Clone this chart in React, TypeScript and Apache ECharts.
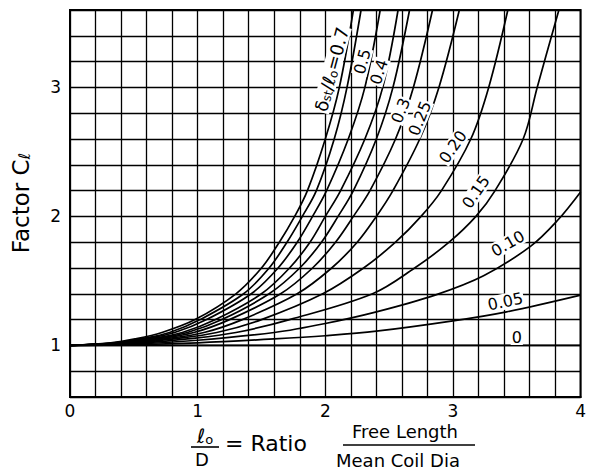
import React, { useEffect, useRef } from "react";
import * as echarts from "echarts";

// ---- axis ticks (labelled values) ----
const xTickLabels = [0, 1, 2, 3, 4];
const yTickLabels = [1, 2, 3];

// ---- curve family: delta_st / l_o values, each as [L0/D, C_l] points ----
const curveNames = ["0.7", "0.6", "0.5", "0.4", "0.35", "0.3", "0.25", "0.20", "0.15", "0.10", "0.05", "0"];

const c070 = [[0, 1], [0.32, 1.02], [0.51, 1.05], [0.72, 1.1], [0.98, 1.2], [1.3, 1.4], [1.5, 1.6], [1.64, 1.8], [1.76, 2.0], [1.86, 2.2], [2.0, 2.6], [2.11, 3.0], [2.22, 3.6]];
const c060 = [[0, 1], [0.35, 1.02], [0.55, 1.05], [0.78, 1.1], [1.02, 1.2], [1.36, 1.4], [1.56, 1.6], [1.7, 1.8], [1.82, 2.0], [1.93, 2.2], [2.07, 2.6], [2.17, 3.0], [2.28, 3.6]];
const c050 = [[0, 1], [0.37, 1.02], [0.58, 1.05], [0.82, 1.1], [1.07, 1.2], [1.42, 1.4], [1.63, 1.6], [1.78, 1.8], [1.9, 2.0], [2.01, 2.2], [2.18, 2.6], [2.31, 3.0], [2.43, 3.6]];
const c040 = [[0, 1], [0.39, 1.02], [0.62, 1.05], [0.88, 1.1], [1.14, 1.2], [1.5, 1.4], [1.72, 1.6], [1.88, 1.8], [2.0, 2.0], [2.12, 2.2], [2.31, 2.6], [2.45, 3.0], [2.57, 3.6]];
const c035 = [[0, 1], [0.41, 1.02], [0.65, 1.05], [0.92, 1.1], [1.19, 1.2], [1.56, 1.4], [1.8, 1.6], [1.97, 1.8], [2.1, 2.0], [2.22, 2.2], [2.4, 2.6], [2.53, 3.0], [2.66, 3.6]];
const c030 = [[0, 1], [0.43, 1.02], [0.69, 1.05], [0.97, 1.1], [1.25, 1.2], [1.65, 1.4], [1.9, 1.6], [2.08, 1.8], [2.22, 2.0], [2.35, 2.2], [2.55, 2.6], [2.69, 3.0], [2.84, 3.6]];
const c025 = [[0, 1], [0.47, 1.02], [0.74, 1.05], [1.05, 1.1], [1.35, 1.2], [1.78, 1.4], [2.05, 1.6], [2.25, 1.8], [2.4, 2.0], [2.53, 2.2], [2.74, 2.6], [2.89, 3.0], [3.05, 3.6]];
const c020 = [[0, 1], [0.51, 1.02], [0.81, 1.05], [1.15, 1.1], [1.5, 1.2], [1.98, 1.4], [2.3, 1.6], [2.55, 1.8], [2.75, 2.0], [2.91, 2.2], [3.14, 2.6], [3.28, 3.0], [3.43, 3.6]];
const c015 = [[0, 1], [0.58, 1.02], [0.92, 1.05], [1.3, 1.1], [1.72, 1.2], [2.37, 1.4], [2.7, 1.6], [2.97, 1.8], [3.18, 2.0], [3.33, 2.2], [3.55, 2.6], [3.66, 3.0], [3.83, 3.6]];
const c010 = [[0, 1], [0.5, 1.01], [1.0, 1.04], [1.6, 1.1], [2.0, 1.17], [2.4, 1.26], [2.86, 1.39], [3.24, 1.54], [3.61, 1.77], [3.82, 1.97], [4.0, 2.19]];
const c005 = [[0, 1], [0.5, 1.005], [1.0, 1.02], [1.6, 1.05], [2.0, 1.075], [2.4, 1.11], [3.0, 1.19], [3.42, 1.26], [4.0, 1.39]];
const c000 = [[0, 1], [4, 1]];

const curves = [c070, c060, c050, c040, c035, c030, c025, c020, c015, c010, c005, c000];

// ---- curve labels (anchor in data coordinates, rotation in degrees) ----
const labelTexts = ["{m|δ}{s|st}{m|/ℓ}{s|o}{m|=0.7}", "0.5", "0.4", "0.3", "0.25", "0.20", "0.15", "0.10", "0.05", "0"];
const labelX = [2.05, 2.29, 2.42, 2.59, 2.74, 3.0, 3.18, 3.43, 3.41, 3.5];
const labelY = [3.14, 3.2, 3.12, 2.82, 2.76, 2.54, 2.19, 1.79, 1.34, 1.065];
const labelRot = [75, 75, 72, 68, 68, 55, 55, 30, 12, 0];

const FONT = "DejaVu Sans";

function isTick(v: number, list: number[]) {
  return list.some((t) => Math.abs(t - v) < 1e-6);
}

export default function App() {
  const ref = useRef<HTMLDivElement>(null);

  useEffect(() => {
    document.body.style.margin = "0";
    const el = ref.current;
    if (!el) return;
    const chart = echarts.init(el, null, { renderer: "svg" });

    chart.setOption({
      animation: false,
      backgroundColor: "#fff",
      grid: {
        left: 70,
        right: 1,
        top: 10,
        bottom: 74,
        show: true,
        borderColor: "#000",
        borderWidth: 2,
        backgroundColor: "transparent",
      },
      xAxis: {
        type: "value",
        min: 0,
        max: 4,
        interval: 0.2,
        axisLine: { show: true, lineStyle: { color: "#000", width: 2 } },
        axisTick: { show: false },
        splitLine: { show: true, lineStyle: { color: "#000", width: 1.3 } },
        axisLabel: {
          color: "#000",
          fontSize: 17,
          fontFamily: FONT,
          margin: 5,
          formatter: (v: number) => (isTick(v, xTickLabels) ? String(Math.round(v)) : ""),
        },
      },
      yAxis: {
        type: "value",
        min: 0.6,
        max: 3.6,
        interval: 0.2,
        axisLine: { show: true, lineStyle: { color: "#000", width: 2 } },
        axisTick: { show: false },
        splitLine: { show: true, lineStyle: { color: "#000", width: 1.3 } },
        axisLabel: {
          color: "#000",
          fontSize: 17,
          fontFamily: FONT,
          margin: 9,
          formatter: (v: number) => (isTick(v, yTickLabels) ? String(Math.round(v)) : ""),
        },
      },
      series: curves.map((data, i) => ({
        name: curveNames[i],
        type: "line",
        data,
        smooth: 0.35,
        symbol: "none",
        clip: true,
        lineStyle: { color: "#000", width: 1.7 },
        z: 3,
      })),
    });

    const labelGraphics = labelTexts.map((t, i) => {
      const p = chart.convertToPixel({ gridIndex: 0 }, [labelX[i], labelY[i]]) as number[];
      return {
        type: "text",
        x: p[0],
        y: p[1],
        rotation: (labelRot[i] * Math.PI) / 180,
        z: 100,
        style: {
          text: t,
          fill: "#000",
          fontSize: 16,
          fontFamily: FONT,
          align: "center",
          verticalAlign: "middle",
          backgroundColor: "#fff",
          padding: [0, 1],
          rich: {
            m: { fontSize: 18, fontFamily: FONT, fill: "#000", verticalAlign: "bottom" },
            s: { fontSize: 12, fontFamily: FONT, fill: "#000", verticalAlign: "bottom" },
          },
        },
      };
    });

    const titleGraphics = [
      {
        type: "text",
        x: 21,
        y: 203,
        rotation: Math.PI / 2,
        style: {
          text: "{m|Factor C}{s|ℓ}",
          fill: "#000",
          align: "center",
          verticalAlign: "middle",
          rich: {
            m: { fontSize: 23, fontFamily: FONT, fill: "#000", verticalAlign: "bottom" },
            s: { fontSize: 16, fontFamily: FONT, fill: "#000", verticalAlign: "bottom" },
          },
        },
      },
      {
        type: "text",
        x: 205,
        y: 436,
        style: {
          text: "{m|ℓ}{s|o}",
          fill: "#000",
          align: "center",
          verticalAlign: "middle",
          rich: {
            m: { fontSize: 20, fontFamily: FONT, fill: "#000", verticalAlign: "bottom" },
            s: { fontSize: 13, fontFamily: FONT, fill: "#000", verticalAlign: "bottom" },
          },
        },
      },
      {
        type: "line",
        shape: { x1: 191, y1: 447, x2: 219, y2: 447 },
        style: { stroke: "#000", lineWidth: 1.6 },
      },
      {
        type: "text",
        x: 202,
        y: 459,
        style: { text: "D", fill: "#000", fontSize: 18, fontFamily: FONT, align: "center", verticalAlign: "middle" },
      },
      {
        type: "text",
        x: 225,
        y: 443,
        style: { text: "= Ratio", fill: "#000", fontSize: 22, fontFamily: FONT, align: "left", verticalAlign: "middle" },
      },
      {
        type: "text",
        x: 405,
        y: 431,
        style: { text: "Free Length", fill: "#000", fontSize: 18, fontFamily: FONT, align: "center", verticalAlign: "middle" },
      },
      {
        type: "line",
        shape: { x1: 343, y1: 445, x2: 475, y2: 445 },
        style: { stroke: "#000", lineWidth: 1.6 },
      },
      {
        type: "text",
        x: 398,
        y: 460,
        style: { text: "Mean Coil Dia", fill: "#000", fontSize: 18, fontFamily: FONT, align: "center", verticalAlign: "middle" },
      },
    ];

    chart.setOption({ graphic: [...labelGraphics, ...titleGraphics] });

    return () => {
      chart.dispose();
    };
  }, []);

  return <div ref={ref} style={{ width: 589, height: 471 }} />;
}
